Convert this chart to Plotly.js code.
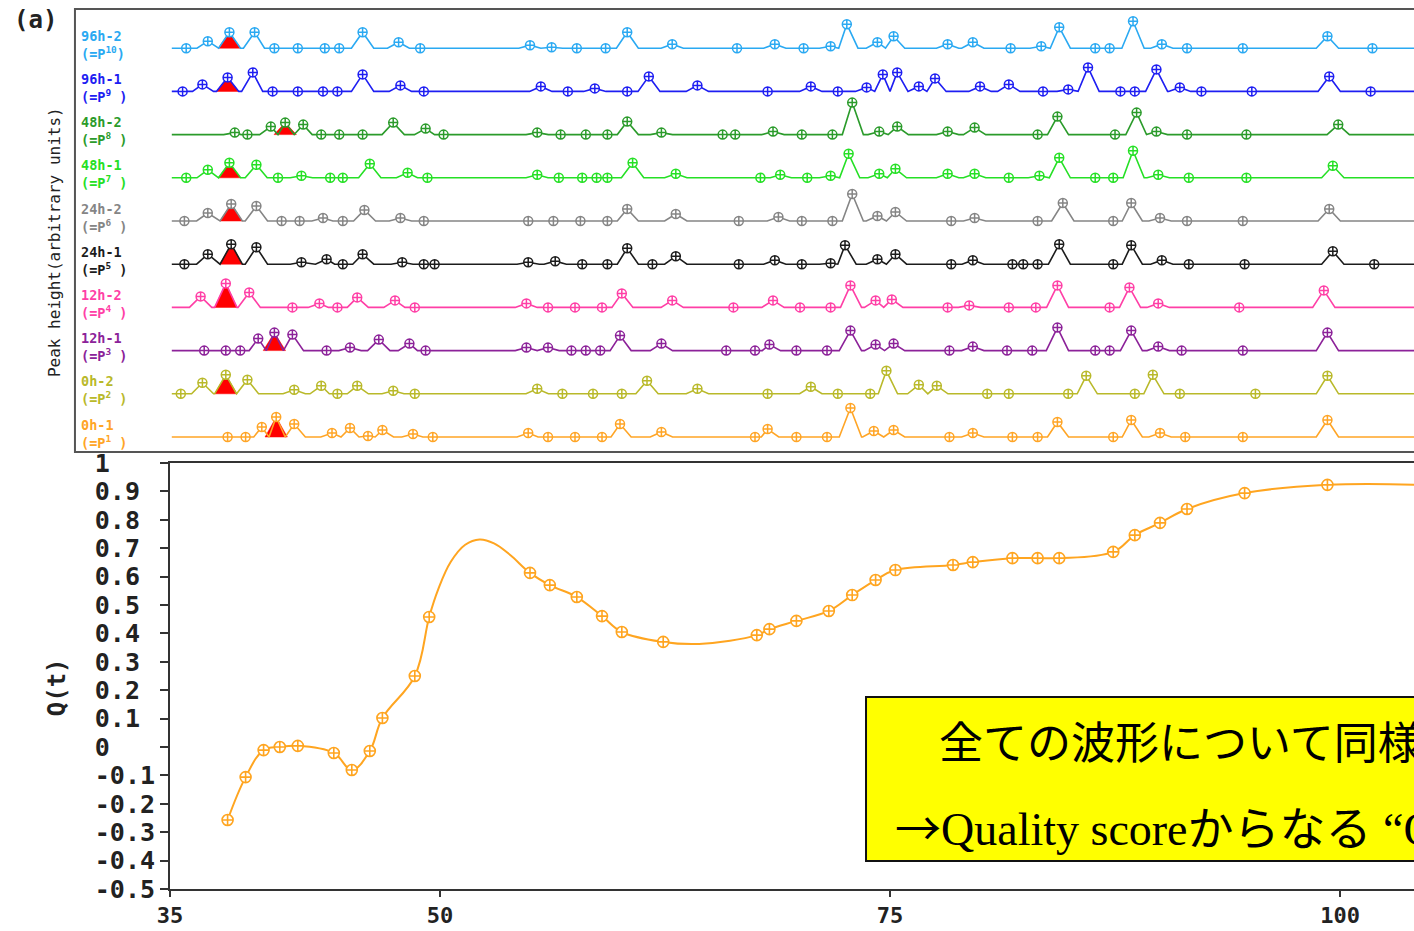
<!DOCTYPE html>
<html>
<head>
<meta charset="utf-8">
<script src="https://cdn.plot.ly/plotly-3.0.1.min.js"></script>
<style>
html,body{margin:0;padding:0;background:#fff;}
#chart{width:1414px;height:931px;}
</style>
</head>
<body>
<div id="chart"></div>
<script>
// ---------- Top panel: peak tables (x = retention position, h = peak height, arbitrary units) ----------
const seriesNames = ['0h-1','0h-2','12h-1','12h-2','24h-1','24h-2','48h-1','48h-2','96h-1','96h-2'];
const seriesPLabels = ['1','2','3','4','5','6','7','8','9','10'];
const seriesColors = ['#ffa526','#b9b92a','#8c2299','#ff3fa6','#1c1c1c','#858585','#25e025','#2b9b2b','#1e1ef2','#2aa9f2'];

const p0h1X = [38.2,39.2,40.1,40.9,41.9,44.0,45.0,46.0,46.8,48.5,49.6,54.9,56.0,57.5,59.0,60.0,62.3,67.5,68.2,69.8,71.5,72.8,74.1,75.2,78.3,79.6,81.8,83.2,84.3,87.4,88.4,90.0,91.4,94.6,99.3];
const p0h1H = [0,0,10,20,13,4,9,1,7,3,0,4,0,0,0,13,5,0,8,0,0,29,6,7,0,4,0,0,15,0,17,4,0,0,17];

const p0h2X = [35.6,36.8,38.1,39.3,41.9,43.4,44.3,45.4,47.4,48.6,55.4,56.8,58.5,60.1,61.5,64.3,68.2,70.6,72.1,73.9,74.8,76.6,77.6,80.4,81.6,84.9,85.9,88.6,89.6,91.1,95.3,99.3];
const p0h2H = [0,11,19,14,4,8,0,8,3,0,5,0,0,0,13,5,0,7,0,0,23,9,8,0,0,0,18,0,19,0,0,18];

const p12h1X = [36.9,38.1,38.9,39.9,40.8,41.8,43.7,45.0,46.6,48.3,49.2,54.8,56.0,57.3,58.1,58.9,60.0,62.3,65.9,67.5,68.3,69.8,71.5,72.8,74.2,75.2,78.3,79.6,81.5,82.9,84.3,86.4,87.2,88.4,89.9,91.2,94.6,99.3];
const p12h1H = [0,0,0,12,18,16,0,3,11,7,0,3,3,0,0,0,15,7,0,0,6,0,0,20,6,7,0,4,0,0,23,0,0,20,4,0,0,18];

const p12h2X = [36.7,38.1,39.4,41.8,43.3,44.3,45.4,47.5,48.6,54.8,56.0,57.5,59.0,60.1,62.9,66.3,68.5,70.0,71.7,72.8,74.2,75.1,78.2,79.4,81.6,83.1,84.3,87.2,88.3,89.9,94.4,99.1];
const p12h2H = [11,24,15,0,4,0,10,7,0,4,0,0,0,14,7,0,7,0,0,22,7,8,0,2,0,0,22,0,20,4,0,17];

const p24h1X = [35.8,37.1,38.4,39.8,42.3,43.7,44.6,45.7,47.9,49.1,49.7,54.9,56.4,57.9,59.3,60.4,61.8,63.1,66.6,68.6,70.1,71.7,72.5,74.3,75.3,78.4,79.6,81.8,82.4,83.2,84.4,87.4,88.4,90.1,91.6,94.7,99.6,101.9];
const p24h1H = [0,10,20,17,2,5,0,10,2,0,0,2,3,0,0,16,0,8,0,4,0,1,19,5,10,0,4,0,0,0,20,0,19,4,0,0,13,0];

const p24h2X = [35.8,37.1,38.4,39.8,41.2,42.2,43.5,44.6,45.8,47.8,49.1,54.9,56.3,57.8,59.3,60.4,63.1,66.6,68.8,70.1,71.8,72.9,74.3,75.3,78.4,79.7,83.2,84.6,87.4,88.4,90.0,91.5,94.6,99.4];
const p24h2H = [0,8,17,15,0,0,3,0,11,3,0,0,0,0,0,12,7,0,4,0,0,27,5,9,0,3,0,18,0,18,3,0,0,12];

const p48h1X = [35.9,37.1,38.3,39.8,41.0,42.3,43.9,44.6,46.1,48.2,49.3,55.4,56.6,57.9,58.7,59.3,60.7,63.1,67.8,68.9,70.4,71.7,72.7,74.4,75.3,78.2,79.7,81.6,83.3,84.4,86.4,87.4,88.5,89.9,91.6,94.8,99.6];
const p48h1H = [0,8,15,13,0,2,0,0,14,5,0,3,0,0,0,0,15,4,0,3,0,2,24,4,9,4,4,0,2,20,0,0,27,3,0,0,12];

const p48h2X = [38.6,39.3,40.6,41.4,42.4,43.4,44.4,45.7,47.4,49.2,50.2,55.4,56.7,58.1,59.3,60.4,62.3,65.7,66.4,68.5,70.1,71.8,72.9,74.4,75.4,78.2,79.7,83.2,84.3,87.5,88.7,89.8,91.5,94.8,99.9];
const p48h2H = [2,0,8,12,10,0,0,0,12,6,0,2,0,0,0,13,2,0,0,3,0,0,32,3,8,3,7,0,18,0,22,3,0,0,10];

const p96h1X = [35.7,36.8,38.2,39.6,40.7,42.1,43.5,44.3,45.7,47.8,49.1,55.6,57.1,58.6,60.4,61.6,64.3,68.2,70.6,72.1,73.7,74.6,75.4,76.6,77.5,80.0,81.6,83.5,84.9,86.0,87.8,88.6,89.8,91.1,92.3,95.1,99.4,101.7];
const p96h1H = [0,7,14,19,0,0,0,0,17,6,0,5,0,3,0,15,6,0,5,0,4,17,19,5,13,5,7,0,2,24,0,0,22,4,0,0,15,0];

const p96h2X = [35.9,37.1,38.3,39.7,40.8,42.1,43.6,44.4,45.7,47.7,48.9,55.0,56.2,57.6,59.2,60.4,62.9,66.5,68.6,70.2,71.7,72.6,74.3,75.2,78.2,79.6,81.7,83.4,84.4,86.4,87.2,88.5,90.1,91.5,94.6,99.3,101.8];
const p96h2H = [0,7,16,16,0,0,0,0,16,6,0,3,1,0,0,16,4,0,4,0,2,24,6,12,4,6,0,2,21,0,0,27,4,0,0,12,0];

// highlighted (red) reference peak of each series
const redPeakX = [40.9,38.1,40.8,38.1,38.4,38.4,38.3,41.4,38.2,38.3];

// ---------- Bottom panel: Q(t) ----------
const qX = [38.2,39.2,40.2,41.1,42.1,44.1,45.1,46.1,46.8,48.6,49.4,55.0,56.1,57.6,59.0,60.1,62.4,67.6,68.3,69.8,71.6,72.9,74.2,75.3,78.5,79.6,81.8,83.2,84.4,87.4,88.6,90.0,91.5,94.7,99.3];
const qY = [-0.257,-0.106,-0.011,0.0,0.004,-0.021,-0.081,-0.014,0.102,0.250,0.458,0.613,0.570,0.528,0.461,0.405,0.370,0.394,0.415,0.444,0.479,0.535,0.588,0.623,0.641,0.651,0.665,0.665,0.665,0.687,0.746,0.789,0.838,0.894,0.923];
// smoothed curve (includes points between markers)
const qCurveX = [38.2,39.2,40.2,41.1,42.1,44.1,45.1,46.1,46.8,48.6,49.4,49.9,50.6,51.4,52.2,53.0,53.9,55.0,56.1,57.6,59.0,60.1,62.4,64.4,67.6,68.3,69.8,71.6,72.9,74.2,75.3,78.5,79.6,81.8,83.2,84.4,87.4,88.6,90.0,91.5,94.7,99.3,104.5];
const qCurveY = [-0.257,-0.106,-0.011,0.0,0.004,-0.021,-0.081,-0.014,0.102,0.250,0.458,0.555,0.652,0.712,0.731,0.717,0.676,0.613,0.570,0.528,0.461,0.405,0.370,0.363,0.394,0.415,0.444,0.479,0.535,0.588,0.623,0.641,0.651,0.665,0.665,0.665,0.687,0.746,0.789,0.838,0.894,0.923,0.923];

const xTickVals = [35,50,75,100];
const xTickText = ['35','50','75','100'];
const yTickVals = [-0.5,-0.4,-0.3,-0.2,-0.1,0,0.1,0.2,0.3,0.4,0.5,0.6,0.7,0.8,0.9,1];
const yTickText = ['-0.5','-0.4','-0.3','-0.2','-0.1','0','0.1','0.2','0.3','0.4','0.5','0.6','0.7','0.8','0.9','1'];

const boxLine1 = '全ての波形について同様';
const boxLine2Arrow = '→';
const boxLine2 = 'Quality scoreからなる “Q(t)”';

// ---------- construction ----------
const peakX = [p0h1X,p0h2X,p12h1X,p12h2X,p24h1X,p24h2X,p48h1X,p48h2X,p96h1X,p96h2X];
const peakH = [p0h1H,p0h2H,p12h1H,p12h2H,p24h1H,p24h2H,p48h1H,p48h2H,p96h1H,p96h2H];
const SPACING = 43.2, HW = 0.62, X_START = 35.1, X_END = 105;
const MONO = 'DejaVu Sans Mono';

function buildLine(xs, hs, base) {
  const X = [X_START], Y = [base];
  for (let k = 0; k < xs.length; k++) {
    const h = hs[k];
    if (h > 0) {
      let lf = xs[k] - HW;
      if (k > 0) lf = Math.max(lf, (xs[k-1] + xs[k]) / 2);
      if (lf > X[X.length-1]) { X.push(lf); Y.push(base); }
      X.push(xs[k]); Y.push(base + h);
      let rf = xs[k] + HW;
      if (k < xs.length - 1) rf = Math.min(rf, (xs[k] + xs[k+1]) / 2);
      X.push(rf); Y.push(base);
    } else {
      X.push(xs[k]); Y.push(base);
    }
  }
  X.push(X_END); Y.push(base);
  return {X, Y};
}

const traces = [];
const annotations = [];
for (let i = 0; i < peakX.length; i++) {
  const base = i * SPACING;
  const col = seriesColors[i];
  const xs = peakX[i], hs = peakH[i];
  const ri = xs.indexOf(redPeakX[i]);
  const rx = xs[ri], rh = hs[ri];
  traces.push({x:[rx-HW, rx, rx+HW, rx-HW], y:[base, base+rh, base, base], xaxis:'x2', yaxis:'y2',
    mode:'lines', fill:'toself', fillcolor:'#ff0000', line:{color:'#ff0000', width:0.5}, hoverinfo:'skip'});
  const ln = buildLine(xs, hs, base);
  traces.push({x:ln.X, y:ln.Y, xaxis:'x2', yaxis:'y2', mode:'lines', line:{color:col, width:1.6}, hoverinfo:'skip'});
  traces.push({x:xs, y:hs.map(h => base + h), xaxis:'x2', yaxis:'y2', mode:'markers',
    marker:{symbol:'circle-cross', size:9, color:'#ffffff', line:{color:col, width:1.5}}, hoverinfo:'skip'});
  const p = seriesPLabels[i];
  annotations.push({xref:'paper', yref:'y2', x:-0.0735, y:base+3.5, xanchor:'left', yanchor:'middle', align:'left',
    text:'<b>'+seriesNames[i]+'</b><br><b>(=P<sup>'+p+'</sup>'+(p.length<2?' ':'')+')</b>',
    showarrow:false, font:{family:MONO, size:13.5, color:col}});
}

traces.push({x:qCurveX, y:qCurveY, mode:'lines', line:{color:'#ffa520', width:2, shape:'spline', smoothing:1.1}, hoverinfo:'skip'});
traces.push({x:qX, y:qY, mode:'markers', marker:{symbol:'circle-cross', size:11, color:'#ffffff', line:{color:'#ffa520', width:1.6}}, hoverinfo:'skip'});

const pad4 = s => s + '\u00A0'.repeat(4 - s.length);

annotations.push(
  {xref:'paper', yref:'paper', x:-0.1085, y:0.9775, xanchor:'center', yanchor:'middle', text:'<b>(a)</b>', showarrow:false, font:{family:MONO, size:24, color:'#222'}},
  {xref:'paper', yref:'paper', x:-0.0924, y:0.7278, xanchor:'center', yanchor:'middle', text:'Peak height(arbitrary units)', textangle:-90, showarrow:false, font:{family:MONO, size:16, color:'#222'}},
  {xref:'paper', yref:'paper', x:-0.0908, y:0.227, xanchor:'center', yanchor:'middle', text:'<b>Q(t)</b>', textangle:-90, showarrow:false, font:{family:MONO, size:24, color:'#222'}},
  {xref:'paper', yref:'paper', x:0.6166, y:0.1676, xanchor:'left', yanchor:'middle', text:boxLine1, showarrow:false, font:{family:'Noto Sans CJK JP', size:44, color:'#000'}},
  {xref:'paper', yref:'paper', x:0.5812, y:0.072, xanchor:'left', yanchor:'middle',
    text:'<span style="font-family:\'Noto Sans CJK JP\'">'+boxLine2Arrow+'</span>'+boxLine2, showarrow:false, font:{family:'Liberation Serif, Noto Sans CJK JP', size:46, color:'#000'}}
);

const layout = {
  width:1414, height:931,
  margin:{l:170, r:0, t:0, b:42},
  paper_bgcolor:'#ffffff', plot_bgcolor:'rgba(0,0,0,0)',
  showlegend:false, hovermode:false,
  xaxis:{range:[35,104.11], domain:[0,1], anchor:'y', tickmode:'array', tickvals:xTickVals, ticktext:xTickText,
    ticks:'outside', ticklen:6, tickwidth:2, tickcolor:'#333', showline:true, linewidth:2, linecolor:'#333', mirror:true,
    showgrid:false, zeroline:false, tickfont:{family:MONO, size:22, color:'#222', weight:'bold'}},
  yaxis:{range:[-0.5,1], domain:[0,0.47919], anchor:'x', tickmode:'array', tickvals:yTickVals, ticktext:yTickText.map(pad4),
    ticks:'outside', ticklen:8, tickwidth:2, tickcolor:'#333', showline:true, linewidth:2, linecolor:'#333',
    showgrid:false, zeroline:false, tickfont:{family:MONO, size:25, color:'#222', weight:'bold'}},
  xaxis2:{range:[35,104.11], domain:[0,1], anchor:'y2', visible:false},
  yaxis2:{range:[-15,427], domain:[0.49156,0.98875], anchor:'x2', visible:false},
  shapes:[
    {type:'rect', xref:'paper', yref:'paper', x0:-0.0764, x1:1.02, y0:0.4916, y1:0.9899, line:{color:'#555', width:2}, fillcolor:'rgba(0,0,0,0)', layer:'below'},
    {type:'rect', xref:'paper', yref:'paper', x0:0.5595, x1:1.02, y0:0.0315, y1:0.216, line:{color:'#111', width:2}, fillcolor:'#ffff00', layer:'above'}
  ],
  annotations:annotations
};

Plotly.newPlot('chart', traces, layout, {displayModeBar:false, staticPlot:true});
</script>
</body>
</html>
